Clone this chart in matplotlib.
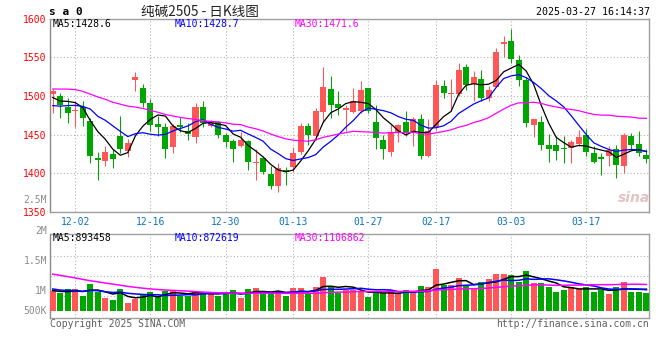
import numpy as np
import pandas as pd
import matplotlib
matplotlib.use('Agg')
import matplotlib.pyplot as plt

W, H = 660, 360

# x positions of the date labels (candle index) and their text
date_idx = [3, 13, 23, 32, 42, 51, 61, 71]
date_labels = ['12-02', '12-16', '12-30', '01-13', '01-27', '02-17', '03-03', '03-17']

# daily OHLC, 80 sessions (11-27 .. 03-27)
open_ = [1502, 1500, 1486, 1480, 1486, 1467, 1420, 1416, 1425, 1448,
         1429, 1520, 1510, 1491, 1464, 1460, 1434, 1462, 1455, 1447,
         1486, 1461, 1466, 1450, 1442, 1435, 1442, 1413, 1420, 1399,
         1383, 1404, 1408, 1427, 1461, 1448, 1479, 1509, 1490, 1482,
         1479, 1480, 1510, 1466, 1443, 1427, 1454, 1466, 1453, 1470,
         1423, 1460, 1513, 1502, 1502, 1537, 1515, 1522, 1497, 1512,
         1567, 1571, 1546, 1521, 1462, 1466, 1437, 1436, 1433, 1433,
         1438, 1450, 1426, 1421, 1422, 1432, 1410, 1448, 1438, 1424]
high = [1509, 1504, 1498, 1494, 1493, 1472, 1428, 1435, 1431, 1474,
        1444, 1531, 1516, 1496, 1474, 1465, 1464, 1473, 1465, 1491,
        1493, 1469, 1467, 1452, 1445, 1454, 1443, 1431, 1422, 1410,
        1413, 1408, 1434, 1465, 1465, 1484, 1537, 1526, 1506, 1488,
        1510, 1519, 1510, 1488, 1450, 1463, 1464, 1481, 1473, 1477,
        1470, 1521, 1521, 1522, 1543, 1541, 1532, 1533, 1513, 1562,
        1578, 1587, 1553, 1524, 1470, 1474, 1451, 1448, 1448, 1443,
        1456, 1457, 1435, 1426, 1435, 1437, 1452, 1452, 1455, 1431]
low = [1478, 1472, 1465, 1460, 1461, 1413, 1391, 1410, 1407, 1426,
       1421, 1507, 1486, 1455, 1448, 1420, 1426, 1453, 1443, 1439,
       1460, 1460, 1446, 1434, 1415, 1434, 1404, 1392, 1399, 1380,
       1376, 1385, 1402, 1425, 1436, 1443, 1466, 1472, 1475, 1455,
       1478, 1478, 1478, 1431, 1418, 1422, 1440, 1448, 1435, 1418,
       1421, 1456, 1498, 1481, 1500, 1508, 1493, 1493, 1493, 1511,
       1550, 1543, 1513, 1460, 1447, 1430, 1414, 1417, 1413, 1413,
       1435, 1422, 1413, 1398, 1410, 1394, 1401, 1430, 1422, 1413]
close = [1506, 1488, 1478, 1482, 1471, 1422, 1417, 1428, 1418, 1432,
         1439, 1525, 1491, 1462, 1460, 1432, 1461, 1460, 1451, 1486,
         1465, 1467, 1450, 1441, 1432, 1443, 1414, 1415, 1402, 1384,
         1407, 1402, 1426, 1461, 1450, 1481, 1512, 1488, 1485, 1485,
         1493, 1508, 1480, 1446, 1432, 1453, 1463, 1454, 1470, 1423,
         1455, 1514, 1504, 1504, 1533, 1514, 1524, 1497, 1508, 1557,
         1570, 1548, 1521, 1465, 1470, 1436, 1432, 1429, 1431, 1441,
         1447, 1428, 1415, 1419, 1430, 1411, 1449, 1437, 1426, 1418]
# volume, thousand lots
volume_k = [840, 750, 910, 910, 630, 1110, 770, 550, 450, 910,
            340, 480, 700, 790, 610, 820, 860, 640, 630, 830,
            720, 740, 630, 750, 860, 550, 910, 970, 750, 750,
            750, 630, 970, 970, 700, 1000, 1420, 1040, 750, 860,
            860, 830, 590, 730, 730, 860, 740, 860, 730, 1040,
            1000, 1720, 1080, 1080, 1370, 1030, 910, 1210, 1320, 1550,
            1550, 1480, 1210, 1650, 1170, 1170, 1000, 800, 860, 1000,
            910, 1000, 800, 860, 700, 1000, 1180, 800, 800, 730]

# sessions before the window (needed for the moving averages)
pre_close = [1490, 1480, 1500, 1540, 1530, 1525, 1520, 1535, 1505, 1515,
             1560, 1545, 1540, 1530, 1520, 1518, 1515, 1495, 1520, 1512,
             1495, 1470, 1480, 1484, 1456, 1511, 1480, 1490, 1503]
pre_volume_k = [2300, 2460, 2610, 2330, 2810, 2170, 1950, 1850, 2310, 1740,
                1680, 1750, 1690, 1360, 1420, 1310, 1090, 1080, 1430, 1320,
                1190, 1080, 900, 1010, 700, 910, 970, 750, 750]

ma_windows = [5, 10, 30]
ma_colors = ['black', '#0000ff', '#ff00ff']
ma_price_text = ['1428.6', '1428.7', '1471.6']
ma_vol_text = ['893458', '872619', '1106862']
legend_x = [53, 175, 295]

price_ticks = [1350, 1400, 1450, 1500, 1550, 1600]
vol_labels = ['2M', '1.5M', '1M', '500K']
vol_label_y = [231, 261, 291, 311]

RED = '#ff5757'
GREEN = '#00a600'
GRID = '#b4b4b4'
SPINE = '#a0a0a0'

plt.rcParams['font.family'] = ['DejaVu Sans Mono']


def px_box(left, top, right, bottom):
    return [left / W, 1 - bottom / H, (right - left) / W, (bottom - top) / H]


fig = plt.figure(figsize=(W / 100, H / 100), dpi=100, facecolor='white')
ax_p = fig.add_axes(px_box(50, 18.6, 649.3, 212))
ax_v = fig.add_axes(px_box(50, 234.3, 649.3, 318.3))

x = np.arange(len(close))
o, hi, lo, c = map(np.array, (open_, high, low, close))
col = np.where(c >= o, RED, GREEN)

# ---- price panel
ax_p.vlines(x, lo, hi, colors=col, lw=0.75, zorder=3)
ax_p.bar(x, np.maximum(np.abs(c - o), 0.9), bottom=np.minimum(o, c),
         width=0.8, color=col, linewidth=0, zorder=3)

all_close = pd.Series(pre_close + close, dtype=float)
for n, colr in zip(ma_windows, ma_colors):
    ma = all_close.rolling(n).mean().iloc[len(pre_close):].values
    ax_p.plot(x, ma, color=colr, lw=0.9, zorder=4)

ax_p.set_xlim(-0.36, 79.38)
ax_p.set_ylim(1350, 1600)
ax_p.set_yticks(price_ticks)
ax_p.set_yticklabels([str(t) for t in price_ticks])
ax_p.set_xticks(date_idx)
ax_p.set_xticklabels(date_labels)
ax_p.tick_params(axis='y', length=0, pad=2.5, labelsize=7, labelcolor='#ff0000')
ax_p.tick_params(axis='x', length=0, pad=3.5, labelsize=7, labelcolor='#0b74c4')
ax_p.grid(True, color=GRID, linestyle=(0, (1, 2)), lw=0.8, zorder=0)
ax_p.text(-0.005, 0.062, '2.5M', transform=ax_p.transAxes, ha='right',
          va='center', fontsize=7, color='#8c8c8c')
ax_p.text(0.975, 0.07, 'sina', transform=ax_p.transAxes, ha='center',
          va='center', fontsize=10, fontstyle='italic', fontweight='bold',
          color='#e3c4c4', family=['DejaVu Sans'], zorder=1)

# ---- volume panel
vol = np.array(volume_k) * 1000.0
ax_v.bar(x, vol, width=0.8, color=col, linewidth=0, zorder=3)
all_vol = pd.Series(pre_volume_k + volume_k, dtype=float) * 1000.0
for n, colr in zip(ma_windows, ma_colors):
    ma = all_vol.rolling(n).mean().iloc[len(pre_volume_k):].values
    ax_v.plot(x, ma, color=colr, lw=1.1, zorder=4)

ax_v.set_xlim(-0.36, 79.38)
ax_v.set_ylim(-0.30e6, 3.17e6)
ax_v.set_xticks(date_idx)
ax_v.set_xticklabels([])
ax_v.set_yticks([])
ax_v.tick_params(length=0)
ax_v.grid(True, axis='x', color=GRID, linestyle=(0, (1, 2)), lw=0.8, zorder=0)
for py in [255.7, 275.7, 295.7]:
    f = (318.3 - py) / 84.0
    ax_v.plot([0, 1], [f, f], transform=ax_v.transAxes, color=GRID,
              linestyle=(0, (1, 2)), lw=0.8, zorder=0)
for lab, py in zip(vol_labels, vol_label_y):
    ax_v.text(-0.005, (318.3 - py) / 84.0, lab, transform=ax_v.transAxes,
              ha='right', va='center', fontsize=7, color='#8c8c8c', clip_on=False)

for ax in (ax_p, ax_v):
    for sp in ax.spines.values():
        sp.set_color(SPINE)
        sp.set_linewidth(1.0)
    ax.spines['left'].set_color('#8a8a8a')

# ---- legends / header / footer
for lx, colr, n, val in zip(legend_x, ma_colors, ma_windows, ma_price_text):
    fig.text(lx / W, 1 - 24 / H, f'MA{n}:{val}', color=colr, fontsize=7,
             ha='left', va='center')
for lx, colr, n, val in zip(legend_x, ma_colors, ma_windows, ma_vol_text):
    fig.text(lx / W, 1 - 238.3 / H, f'MA{n}:{val}', color=colr, fontsize=7,
             ha='left', va='center')

fig.text(49 / W, 1 - 12 / H, 's a 0', fontsize=8, fontweight='bold',
         ha='left', va='center', color='black')
fig.text(200 / W, 1 - 12 / H, '纯碱2505 - 日K线图', fontsize=9.8,
         family=['Noto Sans CJK SC', 'DejaVu Sans'], ha='center', va='center',
         color='#222222')
fig.text(650 / W, 1 - 12 / H, '2025-03-27 16:14:37', fontsize=7.2,
         ha='right', va='center', color='black')
fig.text(50 / W, 1 - 323.7 / H, 'Copyright 2025 SINA.COM', fontsize=7,
         ha='left', va='center', color='#606060')
fig.text(649 / W, 1 - 324.3 / H, 'http://finance.sina.com.cn', fontsize=7,
         ha='right', va='center', color='#606060')

fig.savefig('out.png', dpi=100, facecolor='white')
